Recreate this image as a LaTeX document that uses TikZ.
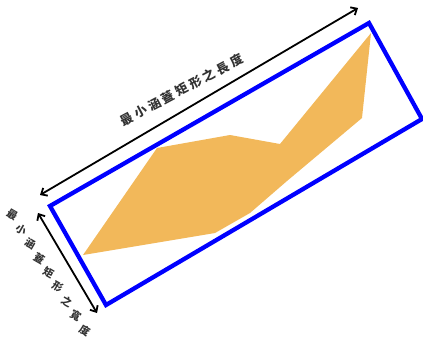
\documentclass[tikz,border=0pt]{standalone}
\usepackage{fontspec}
\newfontfamily\cjk{Noto Sans CJK TC}
\usetikzlibrary{arrows.meta}
\definecolor{hullorange}{RGB}{242,184,90}
\definecolor{labelgray}{RGB}{50,50,50}
\newcommand{\gapch}{\hspace{3pt}}
\tikzset{
  rectline/.style={draw={rgb,255:red,0;green,0;blue,255}, line width=4.3pt, line join=miter},
  dimarrow/.style={draw=black, line width=1.8pt, {Straight Barb[length=5pt,width=9pt,line width=1.8pt]}-{Straight Barb[length=5pt,width=9pt,line width=1.8pt]}},
  hull/.style={fill=hullorange, draw=none},
  chr/.style={text=labelgray, inner sep=0pt}
}
\begin{document}
\begin{tikzpicture}[x=1pt,y=-1pt]
\useasboundingbox (0,0) rectangle (423,338);
% hull polygon
\fill[hull] (83,255) -- (157,148) -- (230,135) -- (280,144) -- (371,33) -- (362,118) -- (287,181) -- (250,213) -- (215,233) -- cycle;
% minimum bounding rectangle
\coordinate (rTL) at (50,206);
\coordinate (rTR) at (369,23);
\coordinate (rBR) at (422,119);
\coordinate (rBL) at (106,305);
\draw[rectline] (rTL) -- (rTR) -- (rBR) -- (rBL) -- cycle;
% dimension arrows
\coordinate (aL1) at (40,195);
\coordinate (aL2) at (358,8);
\coordinate (aW1) at (38,213);
\coordinate (aW2) at (97,313);
\draw[dimarrow] (aL1) -- (aL2);
\draw[dimarrow] (aW1) -- (aW2);
% length label
\node[chr, font=\cjk\bfseries\fontsize{12.5}{12.5}\selectfont, rotate=28] (lenlabel) at (181.8,89.8)
  {最\gapch 小\gapch 涵\gapch 蓋\gapch 矩\gapch 形\gapch 之\gapch 長\gapch 度};
% width label
\foreach \c [count=\i from 0] in {最,小,涵,蓋,矩,形,之,寬,度} {
  \node[chr, font=\cjk\bfseries\fontsize{10.5}{10.5}\selectfont, rotate=-30] (wd\i) at ({12+9.1*\i},{215+14.4*\i}) {\c};
}
\end{tikzpicture}
\end{document}
